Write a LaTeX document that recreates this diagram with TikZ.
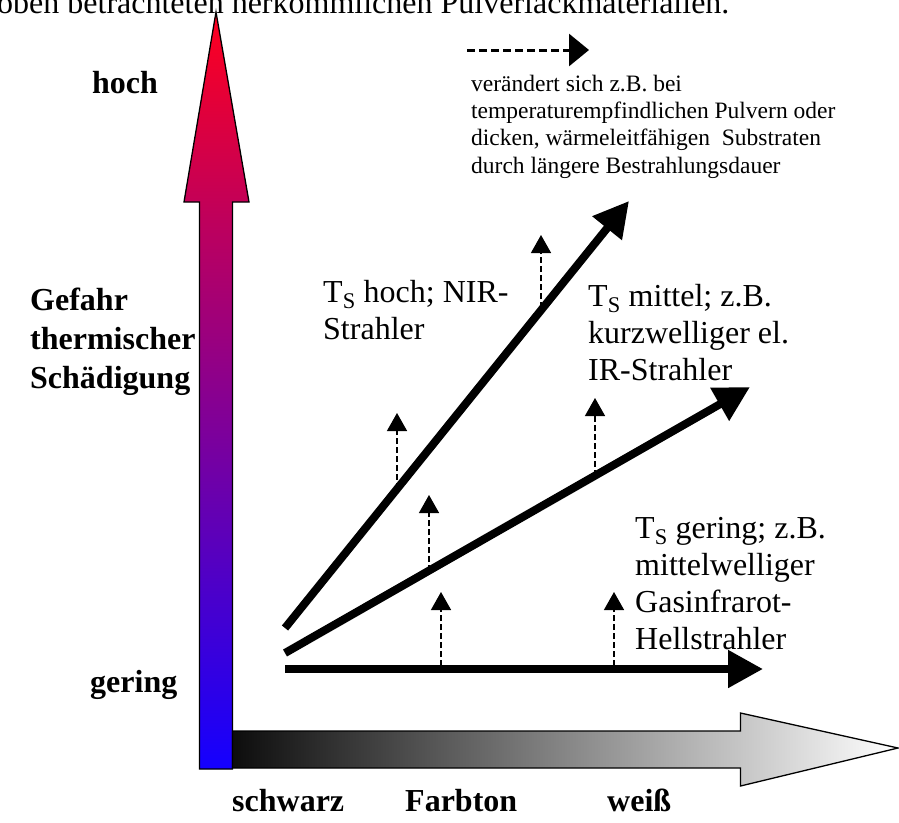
\documentclass[tikz,border=0pt]{standalone}
\usepackage{fontspec}
\setmainfont{Liberation Serif}
\usetikzlibrary{arrows.meta}
\tikzset{
  txt/.style={inner sep=0pt, anchor=base west, align=left, font=\fontsize{32}{37}\selectfont},
  boldtxt/.style={inner sep=0pt, anchor=base west, align=left, font=\fontsize{32}{39}\selectfont\bfseries},
  smalltxt/.style={inner sep=0pt, anchor=base west, align=left, font=\fontsize{23.5}{27.3}\selectfont},
  thick line/.style={line width=8pt, -{Triangle[length=35pt,width=36pt]}},
  rise/.style={line width=1.4pt, dash pattern=on 6pt off 3pt, -{Triangle[length=18pt,width=20pt]}},
  legendarrow/.style={line width=3pt, dash pattern=on 8pt off 4pt, -{Triangle[length=20pt,width=32pt]}},
}
\begin{document}
\begin{tikzpicture}[x=1pt,y=-1pt]
\useasboundingbox (0,0) rectangle (899,822);
\clip (0,0) rectangle (899,822);
% cut-off line of text above
\node[txt] (toptext) at (-3,13) {oben betrachteten herkömmlichen Pulverlackmaterialien.};
% vertical gradient arrow
\draw[line width=1.3pt, top color={rgb,255:red,255;green,0;blue,30}, bottom color={rgb,255:red,20;green,0;blue,255}]
  (216,12) -- (249,202) -- (232.5,202) -- (232.5,769) -- (199.5,769) -- (199.5,202) -- (184,202) -- cycle;
% horizontal gradient arrow
\draw[line width=1.3pt, left color=black!95, right color=white]
  (232.5,731) -- (740.5,731) -- (740.5,713) -- (898,748) -- (740.5,786) -- (740.5,768) -- (232.5,768) -- cycle;
% main thick arrows
\coordinate (L1s) at (285,628); \coordinate (L1e) at (629,201);
\coordinate (L2s) at (285,653); \coordinate (L2e) at (750,387);
\coordinate (L3s) at (285,669); \coordinate (L3e) at (763,669);
\draw[thick line] (L1s) -- (L1e);
\draw[thick line] (L2s) -- (L2e);
\draw[thick line] (L3s) -- (L3e);
% dashed rises
\coordinate (a1s) at (541,308); \coordinate (a1e) at (541,235);
\coordinate (a2s) at (397,489); \coordinate (a2e) at (397,413);
\coordinate (a3s) at (595,476); \coordinate (a3e) at (595,398);
\coordinate (a4s) at (429,571); \coordinate (a4e) at (429,495);
\coordinate (a5s) at (441,666); \coordinate (a5e) at (441,592);
\coordinate (a6s) at (614,666); \coordinate (a6e) at (614,592);
\foreach \i in {1,...,6} { \draw[rise] (a\i s) -- (a\i e); }
% legend
\coordinate (lgs) at (467,50); \coordinate (lge) at (589,50);
\draw[legendarrow] (lgs) -- (lge);
% (multi-line nodes: anchor is the baseline of the last line)
\node[smalltxt] (legend) at (471,173) {verändert sich z.B. bei\\temperaturempfindlichen Pulvern oder\\dicken, wärmeleitfähigen\ \ Substraten\\durch längere Bestrahlungsdauer};
% labels
\node[txt] (hochlbl) at (323,339) {T\textsubscript{S} hoch; NIR-\\Strahler};
\node[txt] (mittellbl) at (588,380) {T\textsubscript{S} mittel; z.B.\\kurzwelliger el.\\IR-Strahler};
\node[txt] (geringlbl) at (635,649) {T\textsubscript{S} gering; z.B.\\mittelwelliger\\Gasinfrarot-\\Hellstrahler};
% axis labels
\node[boldtxt] (hoch) at (92,93) {hoch};
\node[boldtxt] (gefahr) at (30,388) {Gefahr\\thermischer\\Schädigung};
\node[boldtxt] (gering) at (90,692) {gering};
\node[boldtxt] (schwarz) at (232,811) {schwarz};
\node[boldtxt] (farbton) at (405,811) {Farbton};
\node[boldtxt] (weiss) at (607,811) {weiß};
\end{tikzpicture}
\end{document}
